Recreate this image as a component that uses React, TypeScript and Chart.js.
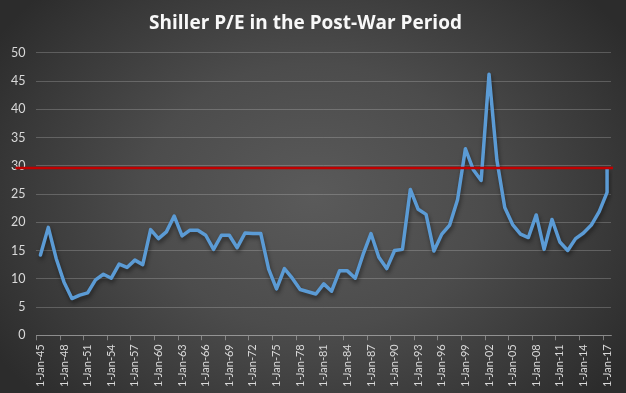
import React, { useEffect, useRef } from "react";
import { Chart, registerables } from "chart.js";

Chart.register(...registerables);

const TITLE = "Shiller P/E in the Post-War Period";

const YEARS = [
  1945, 1946, 1947, 1948, 1949, 1950, 1951, 1952, 1953, 1954,
  1955, 1956, 1957, 1958, 1959, 1960, 1961, 1962, 1963, 1964,
  1965, 1966, 1967, 1968, 1969, 1970, 1971, 1972, 1973, 1974,
  1975, 1976, 1977, 1978, 1979, 1980, 1981, 1982, 1983, 1984,
  1985, 1986, 1987, 1988, 1989, 1990, 1991, 1992, 1993, 1994,
  1995, 1996, 1997, 1998, 1999, 2000, 2001, 2002, 2003, 2004,
  2005, 2006, 2007, 2008, 2009, 2010, 2011, 2012, 2013, 2014,
  2015, 2016, 2017,
];

const PE_VALUES = [
  14.2, 19.1, 13.6, 9.4, 6.5, 7.1, 7.5, 9.8, 10.8, 10.1,
  12.6, 12.0, 13.3, 12.5, 18.7, 17.1, 18.3, 21.1, 17.6, 18.6,
  18.6, 17.7, 15.2, 17.7, 17.7, 15.5, 18.1, 18.0, 18.0, 11.7,
  8.2, 11.8, 10.1, 8.1, 7.7, 7.3, 9.1, 7.8, 11.4, 11.4,
  10.1, 14.3, 18.0, 13.8, 11.8, 15.0, 15.2, 25.8, 22.3, 21.4,
  14.9, 17.9, 19.5, 24.0, 33.0, 29.3, 27.4, 46.2, 31.0, 22.6,
  19.6, 17.9, 17.3, 21.3, 15.2, 20.5, 16.5, 15.0, 17.1, 18.1,
  19.5, 21.9, 25.3,
];

// latest reading, plotted in the 2017 slot
const LATEST_YEAR = 2017;
const LATEST_VALUE = 29.4;

// red reference level
const THRESHOLD = 29.6;

const Y_MIN = 0;
const Y_MAX = 50;
const Y_STEP = 5;
const LABEL_EVERY = 3;

const yearLabel = (y: number) => `1-Jan-${String(y % 100).padStart(2, "0")}`;

const thresholdPlugin = {
  id: "thresholdLine",
  afterDatasetsDraw(chart: any) {
    const { ctx, chartArea, scales } = chart;
    const y = scales.y.getPixelForValue(THRESHOLD);
    ctx.save();
    ctx.strokeStyle = "#c00000";
    ctx.lineWidth = 2.5;
    ctx.beginPath();
    ctx.moveTo(chartArea.left - 21, y);
    ctx.lineTo(chartArea.right + 2, y);
    ctx.stroke();
    ctx.restore();
  },
};

const shadowPlugin = {
  id: "lineShadow",
  beforeDatasetDraw(chart: any) {
    const ctx = chart.ctx;
    ctx.save();
    ctx.shadowColor = "rgba(0,0,0,0.45)";
    ctx.shadowBlur = 4;
    ctx.shadowOffsetX = 1;
    ctx.shadowOffsetY = 3;
  },
  afterDatasetDraw(chart: any) {
    chart.ctx.restore();
  },
};

export default function App() {
  const canvasRef = useRef<HTMLCanvasElement | null>(null);

  useEffect(() => {
    document.body.style.margin = "0";
    const canvas = canvasRef.current;
    if (!canvas) return;

    const labels = YEARS.map(yearLabel);
    const points = YEARS.map((y, i) => ({ x: yearLabel(y), y: PE_VALUES[i] }));
    points.push({ x: yearLabel(LATEST_YEAR), y: LATEST_VALUE });

    const chart = new Chart(canvas, {
      type: "line",
      data: {
        labels,
        datasets: [
          {
            label: "Shiller P/E",
            data: points as any,
            borderColor: "#5b9bd5",
            borderWidth: 3.5,
            borderJoinStyle: "round",
            borderCapStyle: "round",
            pointRadius: 0,
            tension: 0,
            fill: false,
          },
        ],
      },
      options: {
        responsive: false,
        animation: false,
        layout: { padding: { left: 0, right: 15, top: 0, bottom: 2 } },
        plugins: {
          legend: { display: false },
          tooltip: { enabled: false },
          title: {
            display: true,
            text: TITLE,
            color: "#f8f8f8",
            font: { family: "Open Sans", size: 19, weight: "bold" },
            padding: { top: 12, bottom: 18 },
          },
        },
        scales: {
          x: {
            type: "category",
            offset: true,
            grid: {
              offset: true,
              drawOnChartArea: false,
              drawTicks: true,
              tickLength: 5,
              tickColor: (ctx: any) =>
                ctx.index !== undefined && ctx.index % LABEL_EVERY === 0
                  ? "rgba(200,200,200,0.5)"
                  : "rgba(0,0,0,0)",
            },
            border: { display: true, color: "rgba(200,200,200,0.45)", width: 1 },
            ticks: {
              autoSkip: false,
              maxRotation: 90,
              minRotation: 90,
              padding: 4,
              color: "#d9d9d9",
              font: { family: "Lato", size: 11 },
              callback: (_v: any, i: number) => (i % LABEL_EVERY === 0 ? labels[i] : ""),
            },
          },
          y: {
            min: Y_MIN,
            max: Y_MAX,
            border: { display: false },
            grid: {
              color: "rgba(217,217,217,0.25)",
              drawTicks: false,
            },
            ticks: {
              stepSize: Y_STEP,
              padding: 11,
              color: "#d9d9d9",
              font: { family: "Lato", size: 12.5 },
            },
          },
        },
      },
      plugins: [shadowPlugin, thresholdPlugin],
    });

    return () => chart.destroy();
  }, []);

  return (
    <div
      style={{
        width: 626,
        height: 393,
        background:
          "radial-gradient(ellipse 60% 75% at 50% 50%, #5a5a5a 0%, #4c4c4c 45%, #383838 80%, #2c2c2c 100%)",
      }}
    >
      <canvas ref={canvasRef} width={626} height={393} style={{ display: "block" }} />
    </div>
  );
}
